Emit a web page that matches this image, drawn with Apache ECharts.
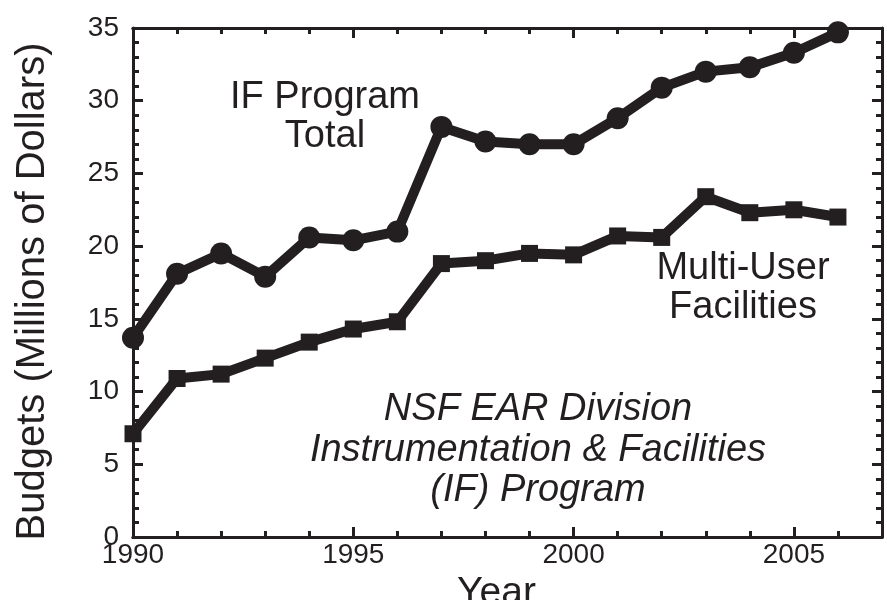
<!DOCTYPE html>
<html><head><meta charset="utf-8">
<script src="https://cdn.jsdelivr.net/npm/echarts@6/dist/echarts.min.js"></script>
<style>html,body{margin:0;padding:0;background:#fff}#c{width:887px;height:600px}</style>
</head><body><div id="c"></div>
<script>
const years = [1990,1991,1992,1993,1994,1995,1996,1997,1998,1999,2000,2001,2002,2003,2004,2005,2006];
const totalValues = [13.7,18.1,19.5,17.9,20.6,20.4,21.0,28.2,27.2,27.0,27.0,28.8,30.9,32.0,32.3,33.3,34.7];
const facilityValues = [7.1,10.9,11.2,12.3,13.4,14.3,14.8,18.8,19.0,19.5,19.4,20.7,20.6,23.4,22.3,22.5,22.0];
const yearTickLabels = [1990,1995,2000,2005];

const INK = '#231f20';
const FONT = "'Liberation Sans', Arial, Helvetica, sans-serif";

function xAx(pos, interval, len, labels, extra) {
  return Object.assign({
    type: 'value', position: pos, min: 1990, max: 2007, interval: interval,
    axisLine: { show: true, lineStyle: { color: INK, width: 3 } },
    axisTick: { show: true, inside: true, length: len, lineStyle: { color: INK, width: 3 } },
    axisLabel: labels ? {
      show: true, fontSize: 28, color: INK, fontFamily: FONT, margin: 4,
      formatter: v => yearTickLabels.indexOf(v) >= 0 ? String(v) : ''
    } : { show: false },
    splitLine: { show: false }
  }, extra || {});
}
function yAx(pos, labels, extra) {
  return Object.assign({
    type: 'value', position: pos, min: 0, max: 35, interval: 5,
    axisLine: { show: true, lineStyle: { color: INK, width: 3 } },
    axisTick: { show: true, inside: true, length: 10, lineStyle: { color: INK, width: 3 } },
    minorTick: { show: true, splitNumber: 5, length: 6, lineStyle: { color: INK, width: 3 } },
    axisLabel: labels ? { show: true, fontSize: 28, color: INK, fontFamily: FONT, margin: 14, padding: [0, 0, 8, 0] } : { show: false },
    splitLine: { show: false }, minorSplitLine: { show: false }
  }, extra || {});
}

const chart = echarts.init(document.getElementById('c'), null, { renderer: 'canvas' });
chart.setOption({
  backgroundColor: '#fff',
  animation: false,
  grid: { left: 133, right: 5, top: 28, bottom: 63, containLabel: false, outerBoundsMode: 'none' },
  xAxis: [
    xAx('bottom', 5, 10, true, {
      name: 'Year', nameLocation: 'middle', nameGap: 33,
      nameTextStyle: { fontSize: 39, color: INK, fontFamily: FONT, padding: [0, 22, 0, 0] }
    }),
    xAx('bottom', 1, 6, false),
    xAx('top', 5, 10, false),
    xAx('top', 1, 6, false)
  ],
  yAxis: [
    yAx('left', true, {
      name: 'Budgets (Millions of Dollars)', nameLocation: 'middle', nameGap: 80,
      nameTextStyle: { fontSize: 40, color: INK, fontFamily: FONT, padding: [0, 18, 0, 0] }
    }),
    yAx('right', false)
  ],
  graphic: [
    { type: 'text', style: { text: 'IF Program\nTotal', x: 325, y: 117.5, textAlign: 'center', textVerticalAlign: 'middle', fontSize: 38, lineHeight: 39, fontFamily: FONT, fill: INK } },
    { type: 'text', style: { text: 'Multi-User\nFacilities', x: 743, y: 288.5, textAlign: 'center', textVerticalAlign: 'middle', fontSize: 38, lineHeight: 39, fontFamily: FONT, fill: INK } },
    { type: 'text', style: { text: 'NSF EAR Division\nInstrumentation & Facilities\n(IF) Program', x: 538, y: 450, textAlign: 'center', textVerticalAlign: 'middle', fontSize: 38, fontStyle: 'italic', lineHeight: 40.5, fontFamily: FONT, fill: INK } }
  ],
  series: [
    {
      name: 'IF Program Total', type: 'line', xAxisIndex: 0, yAxisIndex: 0,
      data: years.map((y, i) => [y, totalValues[i]]),
      symbol: 'circle', symbolSize: 22, showAllSymbol: true,
      lineStyle: { color: INK, width: 10, join: 'round' },
      itemStyle: { color: INK, borderWidth: 0 },
      z: 3
    },
    {
      name: 'Multi-User Facilities', type: 'line', xAxisIndex: 0, yAxisIndex: 0,
      data: years.map((y, i) => [y, facilityValues[i]]),
      symbol: 'rect', symbolSize: 17, showAllSymbol: true,
      lineStyle: { color: INK, width: 10, join: 'round' },
      itemStyle: { color: INK, borderWidth: 0 },
      z: 3
    }
  ]
});
</script>
</body></html>
